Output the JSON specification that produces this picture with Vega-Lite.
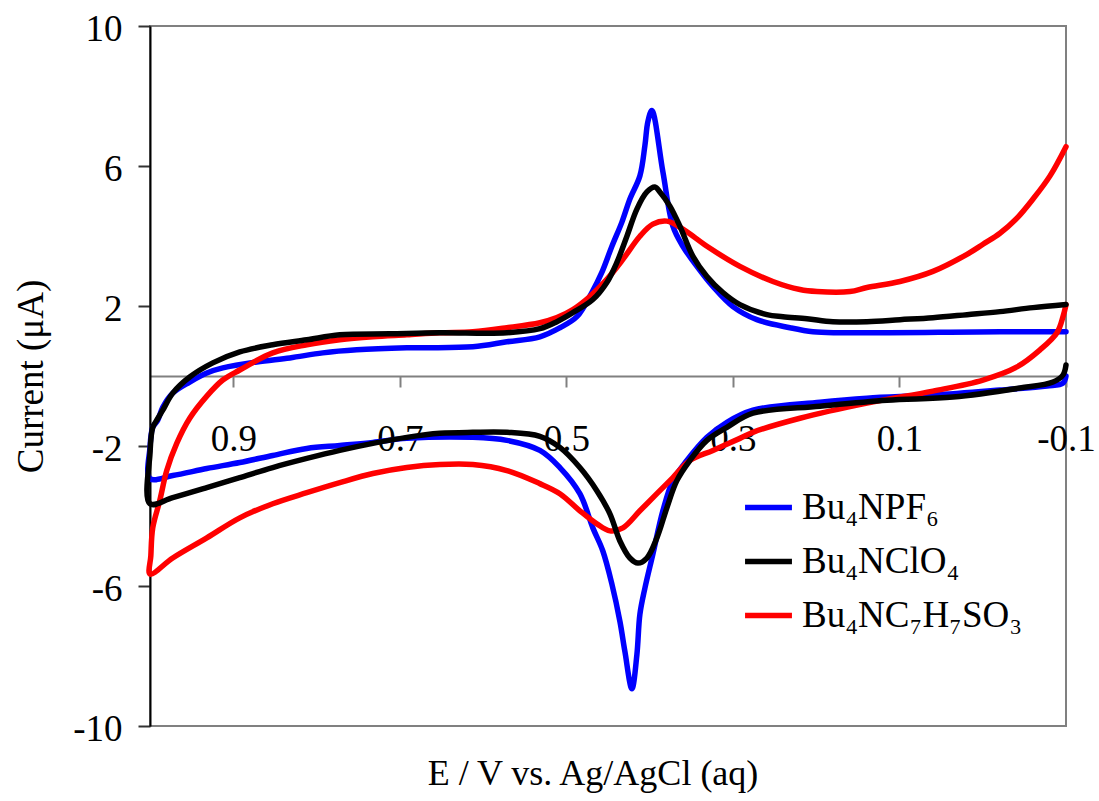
{
  "$schema": "https://vega.github.io/schema/vega-lite/v6.json",
  "width": 916,
  "height": 700,
  "autosize": {"type": "none"},
  "padding": {"left": 150, "top": 26, "right": 33, "bottom": 75},
  "background": "white",
  "config": {
    "view": {"stroke": "#808080", "strokeWidth": 2},
    "font": "Liberation Serif"
  },
  "title": {
    "text": "E / V vs. Ag/AgCl (aq)",
    "orient": "bottom",
    "anchor": "middle",
    "dx": -15,
    "offset": 10,
    "fontSize": 36,
    "font": "Liberation Serif",
    "fontWeight": "normal",
    "color": "black"
  },
  "data": {
    "values": [
      {"salt": "Bu₄NPF₆", "n": 1, "E": -0.1, "I": 1.264},
      {"salt": "Bu₄NPF₆", "n": 2, "E": -0.0207, "I": 1.264},
      {"salt": "Bu₄NPF₆", "n": 3, "E": 0.1715, "I": 1.236},
      {"salt": "Bu₄NPF₆", "n": 4, "E": 0.2039, "I": 1.264},
      {"salt": "Bu₄NPF₆", "n": 5, "E": 0.2315, "I": 1.379},
      {"salt": "Bu₄NPF₆", "n": 6, "E": 0.2712, "I": 1.609},
      {"salt": "Bu₄NPF₆", "n": 7, "E": 0.3, "I": 1.983},
      {"salt": "Bu₄NPF₆", "n": 8, "E": 0.324, "I": 2.557},
      {"salt": "Bu₄NPF₆", "n": 9, "E": 0.3432, "I": 3.132},
      {"salt": "Bu₄NPF₆", "n": 10, "E": 0.3601, "I": 3.707},
      {"salt": "Bu₄NPF₆", "n": 11, "E": 0.3721, "I": 4.282},
      {"salt": "Bu₄NPF₆", "n": 12, "E": 0.3841, "I": 5.833},
      {"salt": "Bu₄NPF₆", "n": 13, "E": 0.3973, "I": 7.586},
      {"salt": "Bu₄NPF₆", "n": 14, "E": 0.4021, "I": 7.27},
      {"salt": "Bu₄NPF₆", "n": 15, "E": 0.4057, "I": 6.58},
      {"salt": "Bu₄NPF₆", "n": 16, "E": 0.4117, "I": 5.718},
      {"salt": "Bu₄NPF₆", "n": 17, "E": 0.4237, "I": 5.057},
      {"salt": "Bu₄NPF₆", "n": 18, "E": 0.4333, "I": 4.397},
      {"salt": "Bu₄NPF₆", "n": 19, "E": 0.4453, "I": 3.707},
      {"salt": "Bu₄NPF₆", "n": 20, "E": 0.4574, "I": 2.96},
      {"salt": "Bu₄NPF₆", "n": 21, "E": 0.4694, "I": 2.385},
      {"salt": "Bu₄NPF₆", "n": 22, "E": 0.4874, "I": 1.695},
      {"salt": "Bu₄NPF₆", "n": 23, "E": 0.5078, "I": 1.379},
      {"salt": "Bu₄NPF₆", "n": 24, "E": 0.5318, "I": 1.121},
      {"salt": "Bu₄NPF₆", "n": 25, "E": 0.5715, "I": 0.977},
      {"salt": "Bu₄NPF₆", "n": 26, "E": 0.6123, "I": 0.833},
      {"salt": "Bu₄NPF₆", "n": 27, "E": 0.6916, "I": 0.805},
      {"salt": "Bu₄NPF₆", "n": 28, "E": 0.7517, "I": 0.747},
      {"salt": "Bu₄NPF₆", "n": 29, "E": 0.7925, "I": 0.661},
      {"salt": "Bu₄NPF₆", "n": 30, "E": 0.8321, "I": 0.517},
      {"salt": "Bu₄NPF₆", "n": 31, "E": 0.8718, "I": 0.402},
      {"salt": "Bu₄NPF₆", "n": 32, "E": 0.9126, "I": 0.23},
      {"salt": "Bu₄NPF₆", "n": 33, "E": 0.9318, "I": 0.086},
      {"salt": "Bu₄NPF₆", "n": 34, "E": 0.9523, "I": -0.172},
      {"salt": "Bu₄NPF₆", "n": 35, "E": 0.9727, "I": -0.489},
      {"salt": "Bu₄NPF₆", "n": 36, "E": 0.9847, "I": -0.891},
      {"salt": "Bu₄NPF₆", "n": 37, "E": 0.9907, "I": -1.264},
      {"salt": "Bu₄NPF₆", "n": 38, "E": 0.9967, "I": -1.466},
      {"salt": "Bu₄NPF₆", "n": 39, "E": 1.0, "I": -2.04},
      {"salt": "Bu₄NPF₆", "n": 40, "E": 1.0, "I": -2.931},
      {"salt": "Bu₄NPF₆", "n": 41, "E": 0.9727, "I": -2.845},
      {"salt": "Bu₄NPF₆", "n": 42, "E": 0.9318, "I": -2.644},
      {"salt": "Bu₄NPF₆", "n": 43, "E": 0.8922, "I": -2.471},
      {"salt": "Bu₄NPF₆", "n": 44, "E": 0.8526, "I": -2.27},
      {"salt": "Bu₄NPF₆", "n": 45, "E": 0.8117, "I": -2.069},
      {"salt": "Bu₄NPF₆", "n": 46, "E": 0.7721, "I": -1.983},
      {"salt": "Bu₄NPF₆", "n": 47, "E": 0.7324, "I": -1.897},
      {"salt": "Bu₄NPF₆", "n": 48, "E": 0.6916, "I": -1.782},
      {"salt": "Bu₄NPF₆", "n": 49, "E": 0.6123, "I": -1.753},
      {"salt": "Bu₄NPF₆", "n": 50, "E": 0.5715, "I": -1.839},
      {"salt": "Bu₄NPF₆", "n": 51, "E": 0.5318, "I": -2.126},
      {"salt": "Bu₄NPF₆", "n": 52, "E": 0.5078, "I": -2.615},
      {"salt": "Bu₄NPF₆", "n": 53, "E": 0.4838, "I": -3.362},
      {"salt": "Bu₄NPF₆", "n": 54, "E": 0.4682, "I": -4.339},
      {"salt": "Bu₄NPF₆", "n": 55, "E": 0.4562, "I": -5.0},
      {"salt": "Bu₄NPF₆", "n": 56, "E": 0.4453, "I": -5.948},
      {"salt": "Bu₄NPF₆", "n": 57, "E": 0.4357, "I": -7.011},
      {"salt": "Bu₄NPF₆", "n": 58, "E": 0.4297, "I": -7.874},
      {"salt": "Bu₄NPF₆", "n": 59, "E": 0.4213, "I": -8.937},
      {"salt": "Bu₄NPF₆", "n": 60, "E": 0.4153, "I": -7.96},
      {"salt": "Bu₄NPF₆", "n": 61, "E": 0.4117, "I": -6.81},
      {"salt": "Bu₄NPF₆", "n": 62, "E": 0.4057, "I": -6.063},
      {"salt": "Bu₄NPF₆", "n": 63, "E": 0.3961, "I": -5.086},
      {"salt": "Bu₄NPF₆", "n": 64, "E": 0.3841, "I": -3.851},
      {"salt": "Bu₄NPF₆", "n": 65, "E": 0.3721, "I": -2.989},
      {"salt": "Bu₄NPF₆", "n": 66, "E": 0.3553, "I": -2.414},
      {"salt": "Bu₄NPF₆", "n": 67, "E": 0.3312, "I": -1.753},
      {"salt": "Bu₄NPF₆", "n": 68, "E": 0.3072, "I": -1.322},
      {"salt": "Bu₄NPF₆", "n": 69, "E": 0.276, "I": -0.977},
      {"salt": "Bu₄NPF₆", "n": 70, "E": 0.1955, "I": -0.747},
      {"salt": "Bu₄NPF₆", "n": 71, "E": 0.139, "I": -0.632},
      {"salt": "Bu₄NPF₆", "n": 72, "E": 0.0598, "I": -0.546},
      {"salt": "Bu₄NPF₆", "n": 73, "E": -0.0207, "I": -0.402},
      {"salt": "Bu₄NPF₆", "n": 74, "E": -0.0772, "I": -0.287},
      {"salt": "Bu₄NPF₆", "n": 75, "E": -0.0964, "I": -0.201},
      {"salt": "Bu₄NPF₆", "n": 76, "E": -0.1, "I": 0.0},

      {"salt": "Bu₄NC₇H₇SO₃", "n": 1, "E": -0.1, "I": 6.552},
      {"salt": "Bu₄NC₇H₇SO₃", "n": 2, "E": -0.0808, "I": 5.718},
      {"salt": "Bu₄NC₇H₇SO₃", "n": 3, "E": -0.0604, "I": 5.057},
      {"salt": "Bu₄NC₇H₇SO₃", "n": 4, "E": -0.0411, "I": 4.511},
      {"salt": "Bu₄NC₇H₇SO₃", "n": 5, "E": -0.0207, "I": 4.08},
      {"salt": "Bu₄NC₇H₇SO₃", "n": 6, "E": -0.0003, "I": 3.764},
      {"salt": "Bu₄NC₇H₇SO₃", "n": 7, "E": 0.0189, "I": 3.477},
      {"salt": "Bu₄NC₇H₇SO₃", "n": 8, "E": 0.0598, "I": 2.989},
      {"salt": "Bu₄NC₇H₇SO₃", "n": 9, "E": 0.0994, "I": 2.701},
      {"salt": "Bu₄NC₇H₇SO₃", "n": 10, "E": 0.139, "I": 2.529},
      {"salt": "Bu₄NC₇H₇SO₃", "n": 11, "E": 0.1595, "I": 2.414},
      {"salt": "Bu₄NC₇H₇SO₃", "n": 12, "E": 0.1991, "I": 2.414},
      {"salt": "Bu₄NC₇H₇SO₃", "n": 13, "E": 0.2195, "I": 2.471},
      {"salt": "Bu₄NC₇H₇SO₃", "n": 14, "E": 0.252, "I": 2.701},
      {"salt": "Bu₄NC₇H₇SO₃", "n": 15, "E": 0.2916, "I": 3.132},
      {"salt": "Bu₄NC₇H₇SO₃", "n": 16, "E": 0.3312, "I": 3.707},
      {"salt": "Bu₄NC₇H₇SO₃", "n": 17, "E": 0.3601, "I": 4.195},
      {"salt": "Bu₄NC₇H₇SO₃", "n": 18, "E": 0.3793, "I": 4.425},
      {"salt": "Bu₄NC₇H₇SO₃", "n": 19, "E": 0.3961, "I": 4.339},
      {"salt": "Bu₄NC₇H₇SO₃", "n": 20, "E": 0.4117, "I": 3.994},
      {"salt": "Bu₄NC₇H₇SO₃", "n": 21, "E": 0.4321, "I": 3.333},
      {"salt": "Bu₄NC₇H₇SO₃", "n": 22, "E": 0.4514, "I": 2.759},
      {"salt": "Bu₄NC₇H₇SO₃", "n": 23, "E": 0.4718, "I": 2.27},
      {"salt": "Bu₄NC₇H₇SO₃", "n": 24, "E": 0.4922, "I": 1.897},
      {"salt": "Bu₄NC₇H₇SO₃", "n": 25, "E": 0.5114, "I": 1.667},
      {"salt": "Bu₄NC₇H₇SO₃", "n": 26, "E": 0.5318, "I": 1.523},
      {"salt": "Bu₄NC₇H₇SO₃", "n": 27, "E": 0.5715, "I": 1.379},
      {"salt": "Bu₄NC₇H₇SO₃", "n": 28, "E": 0.6123, "I": 1.264},
      {"salt": "Bu₄NC₇H₇SO₃", "n": 29, "E": 0.652, "I": 1.236},
      {"salt": "Bu₄NC₇H₇SO₃", "n": 30, "E": 0.6916, "I": 1.178},
      {"salt": "Bu₄NC₇H₇SO₃", "n": 31, "E": 0.7324, "I": 1.121},
      {"salt": "Bu₄NC₇H₇SO₃", "n": 32, "E": 0.7721, "I": 1.034},
      {"salt": "Bu₄NC₇H₇SO₃", "n": 33, "E": 0.8117, "I": 0.891},
      {"salt": "Bu₄NC₇H₇SO₃", "n": 34, "E": 0.8526, "I": 0.661},
      {"salt": "Bu₄NC₇H₇SO₃", "n": 35, "E": 0.8922, "I": 0.172},
      {"salt": "Bu₄NC₇H₇SO₃", "n": 36, "E": 0.9126, "I": -0.115},
      {"salt": "Bu₄NC₇H₇SO₃", "n": 37, "E": 0.9318, "I": -0.575},
      {"salt": "Bu₄NC₇H₇SO₃", "n": 38, "E": 0.9523, "I": -1.207},
      {"salt": "Bu₄NC₇H₇SO₃", "n": 39, "E": 0.9679, "I": -1.925},
      {"salt": "Bu₄NC₇H₇SO₃", "n": 40, "E": 0.9799, "I": -2.701},
      {"salt": "Bu₄NC₇H₇SO₃", "n": 41, "E": 0.9883, "I": -3.563},
      {"salt": "Bu₄NC₇H₇SO₃", "n": 42, "E": 0.9967, "I": -4.339},
      {"salt": "Bu₄NC₇H₇SO₃", "n": 43, "E": 0.999, "I": -5.14},
      {"salt": "Bu₄NC₇H₇SO₃", "n": 44, "E": 1.0, "I": -5.661},
      {"salt": "Bu₄NC₇H₇SO₃", "n": 45, "E": 0.9727, "I": -5.201},
      {"salt": "Bu₄NC₇H₇SO₃", "n": 46, "E": 0.9318, "I": -4.626},
      {"salt": "Bu₄NC₇H₇SO₃", "n": 47, "E": 0.8922, "I": -4.052},
      {"salt": "Bu₄NC₇H₇SO₃", "n": 48, "E": 0.8526, "I": -3.649},
      {"salt": "Bu₄NC₇H₇SO₃", "n": 49, "E": 0.8117, "I": -3.333},
      {"salt": "Bu₄NC₇H₇SO₃", "n": 50, "E": 0.7721, "I": -3.046},
      {"salt": "Bu₄NC₇H₇SO₃", "n": 51, "E": 0.7324, "I": -2.787},
      {"salt": "Bu₄NC₇H₇SO₃", "n": 52, "E": 0.6916, "I": -2.615},
      {"salt": "Bu₄NC₇H₇SO₃", "n": 53, "E": 0.652, "I": -2.529},
      {"salt": "Bu₄NC₇H₇SO₃", "n": 54, "E": 0.6123, "I": -2.529},
      {"salt": "Bu₄NC₇H₇SO₃", "n": 55, "E": 0.5715, "I": -2.701},
      {"salt": "Bu₄NC₇H₇SO₃", "n": 56, "E": 0.5318, "I": -3.075},
      {"salt": "Bu₄NC₇H₇SO₃", "n": 57, "E": 0.5078, "I": -3.362},
      {"salt": "Bu₄NC₇H₇SO₃", "n": 58, "E": 0.4838, "I": -3.851},
      {"salt": "Bu₄NC₇H₇SO₃", "n": 59, "E": 0.4634, "I": -4.224},
      {"salt": "Bu₄NC₇H₇SO₃", "n": 60, "E": 0.4477, "I": -4.425},
      {"salt": "Bu₄NC₇H₇SO₃", "n": 61, "E": 0.4321, "I": -4.339},
      {"salt": "Bu₄NC₇H₇SO₃", "n": 62, "E": 0.4117, "I": -3.851},
      {"salt": "Bu₄NC₇H₇SO₃", "n": 63, "E": 0.3913, "I": -3.362},
      {"salt": "Bu₄NC₇H₇SO₃", "n": 64, "E": 0.3721, "I": -2.902},
      {"salt": "Bu₄NC₇H₇SO₃", "n": 65, "E": 0.3517, "I": -2.414},
      {"salt": "Bu₄NC₇H₇SO₃", "n": 66, "E": 0.324, "I": -2.126},
      {"salt": "Bu₄NC₇H₇SO₃", "n": 67, "E": 0.2916, "I": -1.782},
      {"salt": "Bu₄NC₇H₇SO₃", "n": 68, "E": 0.276, "I": -1.609},
      {"salt": "Bu₄NC₇H₇SO₃", "n": 69, "E": 0.2195, "I": -1.207},
      {"salt": "Bu₄NC₇H₇SO₃", "n": 70, "E": 0.139, "I": -0.776},
      {"salt": "Bu₄NC₇H₇SO₃", "n": 71, "E": 0.0598, "I": -0.431},
      {"salt": "Bu₄NC₇H₇SO₃", "n": 72, "E": -0.0003, "I": -0.115},
      {"salt": "Bu₄NC₇H₇SO₃", "n": 73, "E": -0.0411, "I": 0.259},
      {"salt": "Bu₄NC₇H₇SO₃", "n": 74, "E": -0.0688, "I": 0.747},
      {"salt": "Bu₄NC₇H₇SO₃", "n": 75, "E": -0.0892, "I": 1.236},
      {"salt": "Bu₄NC₇H₇SO₃", "n": 76, "E": -0.0964, "I": 1.695},
      {"salt": "Bu₄NC₇H₇SO₃", "n": 77, "E": -0.1, "I": 2.04},

      {"salt": "Bu₄NClO₄", "n": 1, "E": -0.1, "I": 2.04},
      {"salt": "Bu₄NClO₄", "n": 2, "E": -0.0604, "I": 1.954},
      {"salt": "Bu₄NClO₄", "n": 3, "E": -0.0207, "I": 1.839},
      {"salt": "Bu₄NClO₄", "n": 4, "E": 0.0189, "I": 1.753},
      {"salt": "Bu₄NClO₄", "n": 5, "E": 0.0598, "I": 1.667},
      {"salt": "Bu₄NClO₄", "n": 6, "E": 0.0994, "I": 1.609},
      {"salt": "Bu₄NClO₄", "n": 7, "E": 0.139, "I": 1.552},
      {"salt": "Bu₄NClO₄", "n": 8, "E": 0.1799, "I": 1.552},
      {"salt": "Bu₄NClO₄", "n": 9, "E": 0.2111, "I": 1.638},
      {"salt": "Bu₄NClO₄", "n": 10, "E": 0.2399, "I": 1.695},
      {"salt": "Bu₄NClO₄", "n": 11, "E": 0.2592, "I": 1.753},
      {"salt": "Bu₄NClO₄", "n": 12, "E": 0.2916, "I": 2.04},
      {"salt": "Bu₄NClO₄", "n": 13, "E": 0.312, "I": 2.385},
      {"salt": "Bu₄NClO₄", "n": 14, "E": 0.3312, "I": 2.845},
      {"salt": "Bu₄NClO₄", "n": 15, "E": 0.348, "I": 3.42},
      {"salt": "Bu₄NClO₄", "n": 16, "E": 0.3637, "I": 4.282},
      {"salt": "Bu₄NClO₄", "n": 17, "E": 0.3757, "I": 4.856},
      {"salt": "Bu₄NClO₄", "n": 18, "E": 0.3877, "I": 5.259},
      {"salt": "Bu₄NClO₄", "n": 19, "E": 0.3937, "I": 5.402},
      {"salt": "Bu₄NClO₄", "n": 20, "E": 0.4033, "I": 5.259},
      {"salt": "Bu₄NClO₄", "n": 21, "E": 0.4153, "I": 4.77},
      {"salt": "Bu₄NClO₄", "n": 22, "E": 0.4273, "I": 3.994},
      {"salt": "Bu₄NClO₄", "n": 23, "E": 0.4393, "I": 3.247},
      {"salt": "Bu₄NClO₄", "n": 24, "E": 0.4514, "I": 2.672},
      {"salt": "Bu₄NClO₄", "n": 25, "E": 0.4682, "I": 2.184},
      {"salt": "Bu₄NClO₄", "n": 26, "E": 0.4922, "I": 1.81},
      {"salt": "Bu₄NClO₄", "n": 27, "E": 0.5114, "I": 1.552},
      {"salt": "Bu₄NClO₄", "n": 28, "E": 0.5318, "I": 1.351},
      {"salt": "Bu₄NClO₄", "n": 29, "E": 0.5715, "I": 1.236},
      {"salt": "Bu₄NClO₄", "n": 30, "E": 0.652, "I": 1.236},
      {"salt": "Bu₄NClO₄", "n": 31, "E": 0.712, "I": 1.207},
      {"salt": "Bu₄NClO₄", "n": 32, "E": 0.7721, "I": 1.178},
      {"salt": "Bu₄NClO₄", "n": 33, "E": 0.8117, "I": 1.034},
      {"salt": "Bu₄NClO₄", "n": 34, "E": 0.8526, "I": 0.891},
      {"salt": "Bu₄NClO₄", "n": 35, "E": 0.8922, "I": 0.69},
      {"salt": "Bu₄NClO₄", "n": 36, "E": 0.9246, "I": 0.374},
      {"salt": "Bu₄NClO₄", "n": 37, "E": 0.9523, "I": -0.029},
      {"salt": "Bu₄NClO₄", "n": 38, "E": 0.9727, "I": -0.489},
      {"salt": "Bu₄NClO₄", "n": 39, "E": 0.9847, "I": -0.977},
      {"salt": "Bu₄NClO₄", "n": 40, "E": 0.9919, "I": -1.264},
      {"salt": "Bu₄NClO₄", "n": 41, "E": 0.9967, "I": -1.466},
      {"salt": "Bu₄NClO₄", "n": 42, "E": 1.0, "I": -2.213},
      {"salt": "Bu₄NClO₄", "n": 43, "E": 1.0, "I": -3.649},
      {"salt": "Bu₄NClO₄", "n": 44, "E": 0.9727, "I": -3.477},
      {"salt": "Bu₄NClO₄", "n": 45, "E": 0.9318, "I": -3.19},
      {"salt": "Bu₄NClO₄", "n": 46, "E": 0.8922, "I": -2.902},
      {"salt": "Bu₄NClO₄", "n": 47, "E": 0.8526, "I": -2.615},
      {"salt": "Bu₄NClO₄", "n": 48, "E": 0.8117, "I": -2.356},
      {"salt": "Bu₄NClO₄", "n": 49, "E": 0.7721, "I": -2.126},
      {"salt": "Bu₄NClO₄", "n": 50, "E": 0.7324, "I": -1.925},
      {"salt": "Bu₄NClO₄", "n": 51, "E": 0.6916, "I": -1.753},
      {"salt": "Bu₄NClO₄", "n": 52, "E": 0.652, "I": -1.638},
      {"salt": "Bu₄NClO₄", "n": 53, "E": 0.6123, "I": -1.609},
      {"salt": "Bu₄NClO₄", "n": 54, "E": 0.5715, "I": -1.609},
      {"salt": "Bu₄NClO₄", "n": 55, "E": 0.5318, "I": -1.724},
      {"salt": "Bu₄NClO₄", "n": 56, "E": 0.5078, "I": -2.04},
      {"salt": "Bu₄NClO₄", "n": 57, "E": 0.4838, "I": -2.615},
      {"salt": "Bu₄NClO₄", "n": 58, "E": 0.4634, "I": -3.276},
      {"salt": "Bu₄NClO₄", "n": 59, "E": 0.4477, "I": -3.937},
      {"salt": "Bu₄NClO₄", "n": 60, "E": 0.4357, "I": -4.713},
      {"salt": "Bu₄NClO₄", "n": 61, "E": 0.4237, "I": -5.201},
      {"salt": "Bu₄NClO₄", "n": 62, "E": 0.4141, "I": -5.345},
      {"salt": "Bu₄NClO₄", "n": 63, "E": 0.4033, "I": -5.201},
      {"salt": "Bu₄NClO₄", "n": 64, "E": 0.3913, "I": -4.626},
      {"salt": "Bu₄NClO₄", "n": 65, "E": 0.3793, "I": -3.764},
      {"salt": "Bu₄NClO₄", "n": 66, "E": 0.3673, "I": -2.989},
      {"salt": "Bu₄NClO₄", "n": 67, "E": 0.3517, "I": -2.414},
      {"salt": "Bu₄NClO₄", "n": 68, "E": 0.3312, "I": -1.839},
      {"salt": "Bu₄NClO₄", "n": 69, "E": 0.3072, "I": -1.466},
      {"salt": "Bu₄NClO₄", "n": 70, "E": 0.276, "I": -1.063},
      {"salt": "Bu₄NClO₄", "n": 71, "E": 0.1955, "I": -0.862},
      {"salt": "Bu₄NClO₄", "n": 72, "E": 0.115, "I": -0.69},
      {"salt": "Bu₄NClO₄", "n": 73, "E": 0.0357, "I": -0.603},
      {"salt": "Bu₄NClO₄", "n": 74, "E": -0.0447, "I": -0.345},
      {"salt": "Bu₄NClO₄", "n": 75, "E": -0.0844, "I": -0.172},
      {"salt": "Bu₄NClO₄", "n": 76, "E": -0.0964, "I": 0.029},
      {"salt": "Bu₄NClO₄", "n": 77, "E": -0.1, "I": 0.316}
    ]
  },
  "mark": {"type": "line", "strokeWidth": 5.5, "strokeJoin": "round", "strokeCap": "round", "interpolate": "catmull-rom"},
  "encoding": {
    "x": {
      "field": "E",
      "type": "quantitative",
      "scale": {"domain": [-0.1, 1.0], "reverse": true, "nice": false, "zero": false},
      "axis": {
        "title": null,
        "offset": -350,
        "values": [0.9, 0.7, 0.5, 0.3, 0.1, -0.1],
        "labelExpr": "'' + datum.value",
        "domainColor": "#808080",
        "domainWidth": 2,
        "tickColor": "#808080",
        "tickWidth": 2,
        "tickSize": 11,
        "labelPadding": 34,
        "labelFont": "Liberation Serif",
        "labelFontSize": 37,
        "labelColor": "black",
        "labelFlush": false,
        "labelOverlap": false,
        "grid": false
      }
    },
    "y": {
      "field": "I",
      "type": "quantitative",
      "scale": {"domain": [-10, 10], "nice": false},
      "axis": {
        "title": "Current (μA)",
        "values": [-10, -6, -2, 2, 6, 10],
        "labelExpr": "'' + datum.value",
        "domainColor": "#000000",
        "domainWidth": 2,
        "tickColor": "#333333",
        "tickWidth": 2,
        "tickSize": 12,
        "labelPadding": 16,
        "labelOffset": 3,
        "labelFont": "Liberation Serif",
        "labelFontSize": 37,
        "labelColor": "black",
        "titleFont": "Liberation Serif",
        "titleFontSize": 37,
        "titleFontWeight": "normal",
        "titleColor": "black",
        "titlePadding": 22,
        "grid": false
      }
    },
    "color": {
      "field": "salt",
      "type": "nominal",
      "scale": {
        "domain": ["Bu₄NPF₆", "Bu₄NClO₄", "Bu₄NC₇H₇SO₃"],
        "range": ["#0000ff", "#000000", "#ff0000"]
      },
      "legend": {
        "orient": "none",
        "legendX": 592,
        "legendY": 455,
        "title": null,
        "padding": 0,
        "symbolType": "stroke",
        "symbolSize": 2200,
        "symbolStrokeWidth": 5.5,
        "labelFont": "Liberation Serif",
        "labelFontSize": 37,
        "labelColor": "black",
        "labelOffset": 7,
        "labelLimit": 400,
        "rowPadding": 9
      }
    },
    "order": {"field": "n", "type": "quantitative"}
  }
}
